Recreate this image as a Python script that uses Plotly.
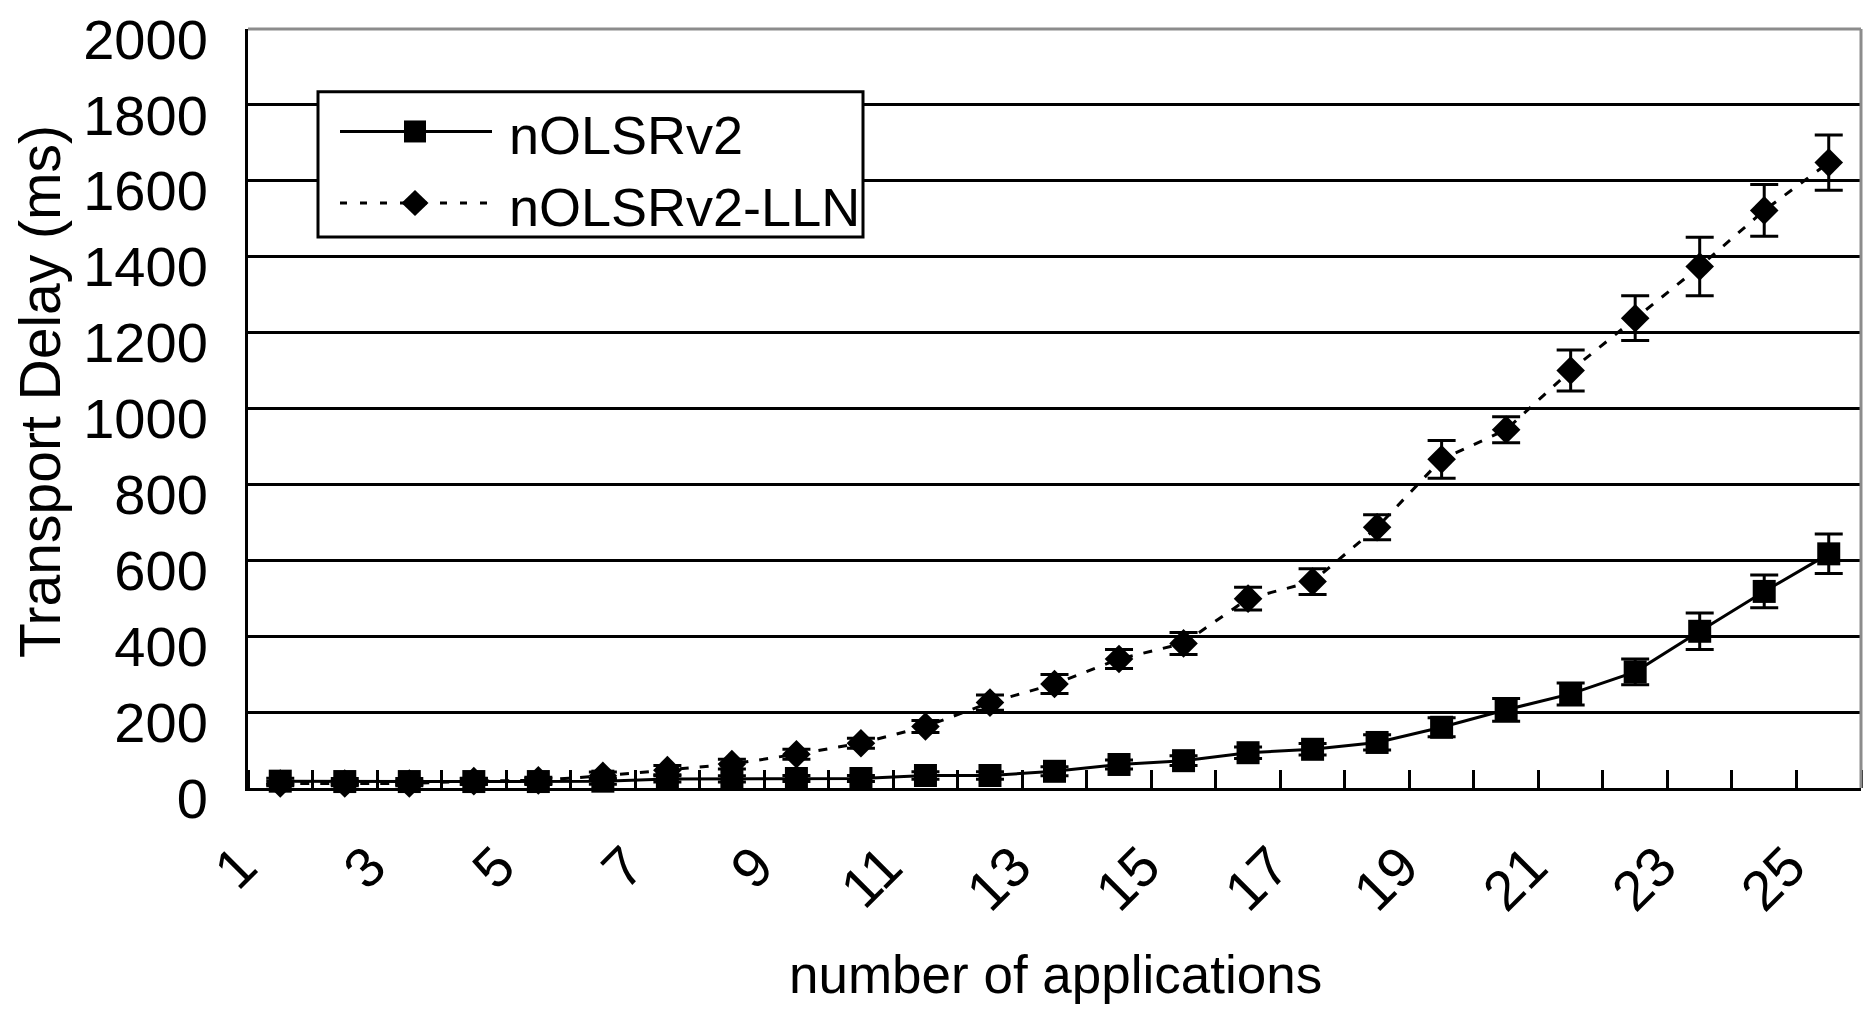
import plotly.graph_objects as go

# number of concurrent applications (x categories)
apps = [1, 2, 3, 4, 5, 6, 7, 8, 9, 10, 11, 12, 13, 14, 15, 16, 17, 18, 19, 20, 21, 22, 23, 24, 25]
tick_apps = [1, 3, 5, 7, 9, 11, 13, 15, 17, 19, 21, 23, 25]
tick_app_labels = ["1", "3", "5", "7", "9", "11", "13", "15", "17", "19", "21", "23", "25"]

# mean transport delay (ms) and error margins
nolsr = [18, 17, 17, 17, 17, 18, 24, 24, 25, 25, 33, 33, 44, 62, 72, 93, 102, 120, 160, 206, 248, 306, 413, 518, 617]
nolsr_err = [8, 8, 8, 8, 8, 8, 8, 8, 8, 8, 10, 10, 12, 12, 13, 15, 15, 20, 25, 30, 29, 34, 48, 43, 52]
lln = [12, 12, 12, 18, 20, 32, 47, 63, 89, 118, 162, 225, 274, 340, 381, 499, 544, 687, 866, 944, 1100, 1238, 1374, 1522, 1648]
lln_err = [6, 6, 6, 8, 8, 10, 12, 13, 13, 13, 16, 20, 25, 25, 29, 30, 34, 33, 50, 34, 54, 59, 77, 68, 73]

y_ticks = [0, 200, 400, 600, 800, 1000, 1200, 1400, 1600, 1800, 2000]
y_tick_labels = [str(v) for v in y_ticks]

series_names = ["nOLSRv2", "nOLSRv2-LLN"]

FONT = "Liberation Sans, Arial, sans-serif"
DASH = "9px,11px"

fig = go.Figure()

fig.add_trace(go.Scatter(
    x=apps, y=lln, name=series_names[1], mode="lines+markers",
    line=dict(color="black", width=3, dash=DASH),
    marker=dict(symbol="diamond", size=22, color="black"),
    error_y=dict(type="data", array=lln_err, visible=True, thickness=3, width=14, color="black"),
    cliponaxis=False, showlegend=False,
))
fig.add_trace(go.Scatter(
    x=apps, y=nolsr, name=series_names[0], mode="lines+markers",
    line=dict(color="black", width=3),
    marker=dict(symbol="square", size=23, color="black"),
    error_y=dict(type="data", array=nolsr_err, visible=True, thickness=3, width=14, color="black"),
    cliponaxis=False, showlegend=False,
))

W, H = 1869, 1011
ML, MR, MT, MB = 248, 8, 25, 223
PW, PH = W - ML - MR, H - MT - MB


def px_x(px):
    return (px - ML) / PW


def px_y(py):
    return (H - MB - py) / PH


shapes = []
annotations = []

# grey frame on the top and right edges
shapes.append(dict(type="line", xref="paper", yref="paper", x0=0, x1=1, y0=1, y1=1,
                   line=dict(color="#8c8c8c", width=3), layer="above"))
shapes.append(dict(type="line", xref="paper", yref="paper", x0=1, x1=1, y0=0, y1=1,
                   line=dict(color="#8c8c8c", width=3), layer="above"))

# legend box
shapes.append(dict(type="rect", xref="paper", yref="paper",
                   x0=px_x(318), x1=px_x(863), y0=px_y(234), y1=px_y(88),
                   line=dict(color="black", width=3), fillcolor="white", layer="above"))

rows = [(128, "solid", "square"), (200, "7px,13px", "diamond")]
for (cy, dash, sym), label in zip(rows, series_names):
    shapes.append(dict(type="line", xref="paper", yref="paper",
                       x0=px_x(340), x1=px_x(492), y0=px_y(cy), y1=px_y(cy),
                       line=dict(color="black", width=3, dash=dash), layer="above"))
    if sym == "square":
        shapes.append(dict(type="rect", xref="paper", yref="paper",
                           xsizemode="pixel", ysizemode="pixel",
                           xanchor=px_x(415), yanchor=px_y(cy),
                           x0=-11, x1=11, y0=-11, y1=11,
                           line=dict(width=0), fillcolor="black", layer="above"))
    else:
        shapes.append(dict(type="path", xref="paper", yref="paper",
                           xsizemode="pixel", ysizemode="pixel",
                           xanchor=px_x(415), yanchor=px_y(cy),
                           path="M 0,13 L 13.5,0 L 0,-13 L -13.5,0 Z",
                           line=dict(width=0), fillcolor="black", layer="above"))
    annotations.append(dict(xref="paper", yref="paper", x=px_x(507), y=px_y(cy + 4),
                            xanchor="left", yanchor="middle", showarrow=False,
                            text=label, font=dict(family=FONT, size=54, color="black")))

# axis titles
annotations.append(dict(xref="paper", yref="paper", x=px_x(40), y=px_y(390),
                        xanchor="center", yanchor="middle", showarrow=False, textangle=-90,
                        text="Transport Delay (ms)", font=dict(family=FONT, size=57, color="black")))
annotations.append(dict(xref="paper", yref="paper", x=px_x(1055), y=px_y(975),
                        xanchor="center", yanchor="middle", showarrow=False,
                        text="number of applications", font=dict(family=FONT, size=53, color="black")))

fig.update_layout(
    width=W, height=H,
    margin=dict(l=ML, r=MR, t=MT, b=MB, pad=0),
    paper_bgcolor="white", plot_bgcolor="white",
    font=dict(family=FONT, color="black"),
    shapes=shapes, annotations=annotations,
    showlegend=False,
)

fig.update_xaxes(
    range=[0.5, 25.5], tickmode="array", tickvals=tick_apps, ticktext=tick_app_labels,
    tickangle=-45, tickfont=dict(family=FONT, size=56, color="black"),
    ticks="", ticklabelstandoff=20, ticklabelshift=-40, ticklabeloverflow="allow",
    showgrid=False, zeroline=False,
    showline=True, linecolor="black", linewidth=3,
    minor=dict(tick0=0.5, dtick=1, ticks="inside", ticklen=18, tickwidth=3,
               tickcolor="black", showgrid=False),
)
fig.update_yaxes(
    range=[0, 2000], tickmode="array", tickvals=y_ticks, ticktext=y_tick_labels,
    tickfont=dict(family=FONT, size=56, color="black"),
    ticks="", ticklabelstandoff=26, ticklabelshift=10, ticklabeloverflow="allow",
    showgrid=True, gridcolor="black", gridwidth=3, zeroline=False,
    showline=True, linecolor="black", linewidth=3,
)

fig.write_html("out.html")
